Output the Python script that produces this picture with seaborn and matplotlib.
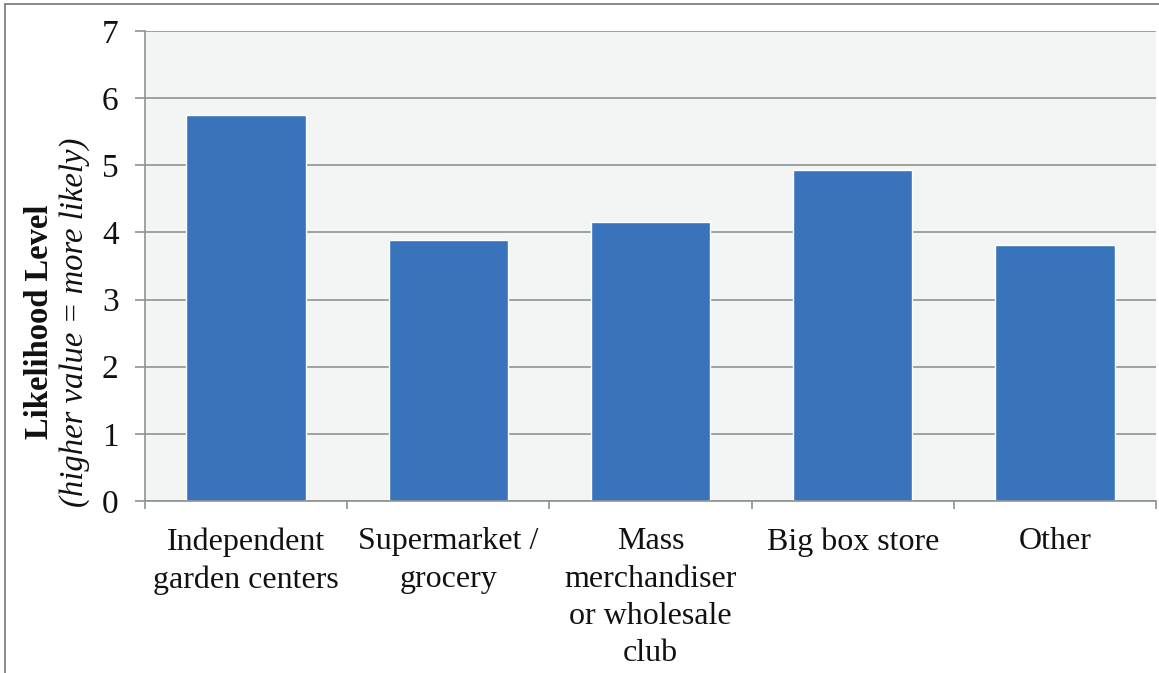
import matplotlib
matplotlib.use("Agg")
import matplotlib.pyplot as plt
import seaborn as sns
import pandas as pd
from matplotlib.lines import Line2D

categories = ["Independent\ngarden centers", "Supermarket /\ngrocery",
              "Mass\nmerchandiser\nor wholesale\nclub", "Big box store", "Other"]
values = [5.75, 3.89, 4.16, 4.93, 3.81]
y_ticks = [0, 1, 2, 3, 4, 5, 6, 7]

sns.set_theme(style="white")
plt.rcParams['font.family'] = ['Liberation Serif', 'DejaVu Serif']

W, H = 1159, 673
fig = plt.figure(figsize=(W / 100, H / 100), dpi=100)
ax = fig.add_axes([145 / W, 172 / H, 1011 / W, 470 / H])

df = pd.DataFrame({"cat": categories, "val": values})
sns.barplot(data=df, x="cat", y="val", color="#3873BC", saturation=1,
            width=0.59, ax=ax)

gray = "#8C9494"
ax.set_facecolor("#F3F4F4")
ax.set_axisbelow(True)
ax.set_ylim(0, 7)
ax.set_yticks(y_ticks)
ax.yaxis.grid(True, color=gray, linewidth=1.2)
ax.xaxis.grid(False)
ax.set_xlim(-0.5, 4.5)
ax.set_xticks(range(len(categories)))
ax.set_xticklabels(categories, fontsize=23, linespacing=1.38)
ax.set_xticks([i - 0.5 for i in range(len(categories) + 1)], minor=True)
ax.tick_params(axis='x', which='major', length=0, pad=19, colors="#111111")
ax.tick_params(axis='x', which='minor', length=6, width=1.2, color=gray,
               direction='out', bottom=True)
ax.tick_params(axis='y', length=7, width=1.2, color=gray, pad=12,
               labelsize=24, labelcolor="#111111", left=True)
for s in ["top", "right"]:
    ax.spines[s].set_visible(False)
for s in ["left", "bottom"]:
    ax.spines[s].set_color(gray)
    ax.spines[s].set_linewidth(1.2)
ax.set_xlabel("")
ax.set_ylabel("")

fig.text(40 / W, 1 - 322 / H, "Likelihood Level", rotation=90, ha='center',
         va='center', fontweight='bold', fontsize=23.5, color="#111111")
fig.text(75 / W, 1 - 322 / H, "(higher value = more likely)", rotation=90,
         ha='center', va='center', style='italic', fontsize=23.5, color="#111111")

fig.add_artist(Line2D([5 / W, 5 / W], [0, 1 - 4 / H], transform=fig.transFigure,
                      color="#777777", linewidth=1.2))
fig.add_artist(Line2D([5 / W, 1], [1 - 4 / H, 1 - 4 / H], transform=fig.transFigure,
                      color="#777777", linewidth=1.2))

fig.savefig("out.png", dpi=100)
